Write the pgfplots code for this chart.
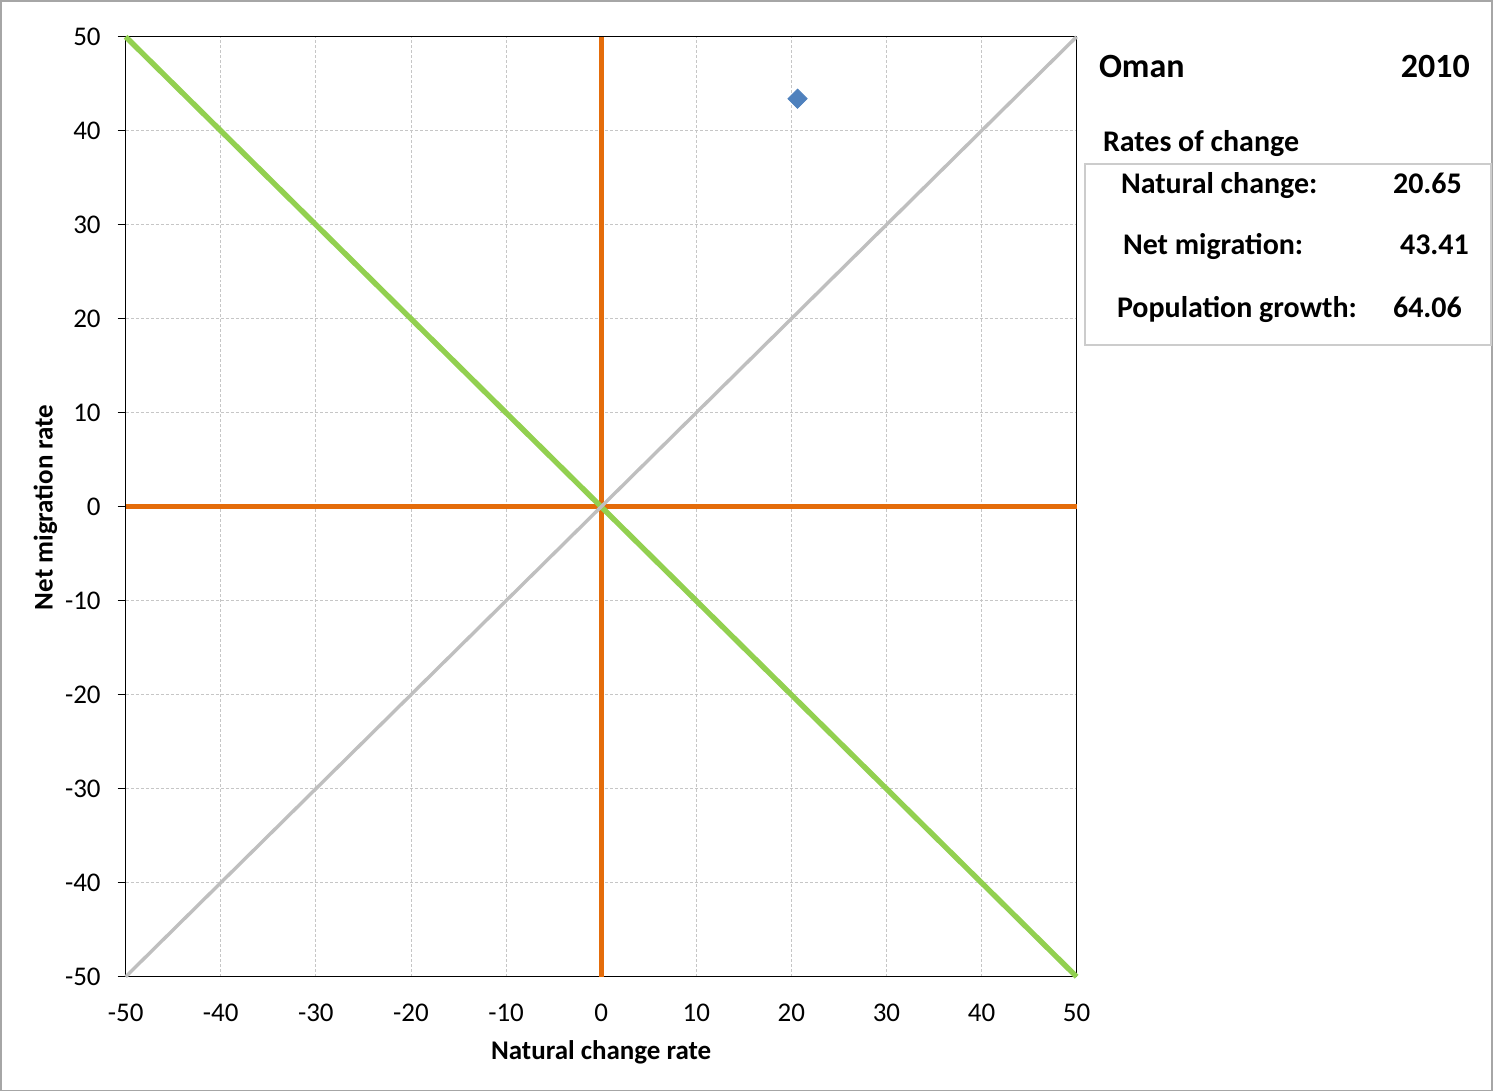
\documentclass[border=0pt]{standalone}
\usepackage{pgfplots}
\pgfplotsset{compat=1.18}
\usepackage{fontspec}
\setmainfont{Carlito}
\definecolor{grn}{HTML}{92D050}
\definecolor{org}{HTML}{E46C0A}
\definecolor{gry}{HTML}{BFBFBF}
\definecolor{blu}{HTML}{4F81BD}
\begin{document}
\begin{tikzpicture}
\draw[gray!70, line width=0.8bp] (0,0) rectangle (746.5bp,545.5bp);
\begin{axis}[
  at={(62.5bp,57bp)}, anchor=south west,
  scale only axis, width=476bp, height=470.5bp,
  xmin=-50, xmax=50, ymin=-50, ymax=50,
  xtick={-50,-40,...,50}, ytick={-50,-40,...,50},
  ytick pos=left,
  grid=major,
  major grid style={gray!45, dash pattern=on 1.5bp off 1bp, line width=0.4bp},
  axis line style={black, line width=0.7bp},
  tick align=outside, major tick length=4bp,
  xtick style={draw=none}, ytick style={black, line width=0.6bp},
  /pgf/number format/assume math mode=true,
  tick label style={font=\fontsize{13.5bp}{16bp}\selectfont},
  yticklabel style={xshift=-5bp},
  xticklabel style={yshift=-6bp},
  clip=false,
]
\addplot[org, line width=2.5bp] coordinates {(-50,0) (50,0)};
\addplot[org, line width=2.5bp] coordinates {(0,-50) (0,50)};
\addplot[grn, line width=2.7bp] coordinates {(-50,50) (50,-50)};
\addplot[gry, line width=1.7bp] coordinates {(-50,-50) (50,50)};
\addplot[only marks, mark=square*, mark size=3.4bp, mark options={rotate=45, draw=blu, fill=blu}] coordinates {(20.65,43.41)};
\end{axis}
\node[font=\bfseries\fontsize{13.5bp}{16bp}\selectfont, anchor=base] at (300.5bp,15.5bp) {Natural change rate};
\node[font=\bfseries\fontsize{13.5bp}{16bp}\selectfont, rotate=90, anchor=base] at (26bp,292bp) {Net migration rate};
\node[font=\bfseries\fontsize{17bp}{20bp}\selectfont, anchor=base west, inner sep=0] at (549.5bp,507bp) {Oman};
\node[font=\bfseries\fontsize{17bp}{20bp}\selectfont, anchor=base east, inner sep=0] at (735.5bp,507bp) {2010};
\node[font=\bfseries\fontsize{15bp}{18bp}\selectfont, anchor=base west, inner sep=0] at (551.5bp,470bp) {Rates of change};
\draw[gray!40, line width=1bp] (542.5bp,373bp) rectangle (746bp,464bp);
\node[font=\bfseries\fontsize{15bp}{18bp}\selectfont, anchor=base west, inner sep=0] at (560.5bp,449bp) {Natural change:};
\node[font=\bfseries\fontsize{15bp}{18bp}\selectfont, anchor=base east, inner sep=0] at (731.5bp,449bp) {20.65};
\node[font=\bfseries\fontsize{15bp}{18bp}\selectfont, anchor=base west, inner sep=0] at (561.5bp,418.5bp) {Net migration:};
\node[font=\bfseries\fontsize{15bp}{18bp}\selectfont, anchor=base east, inner sep=0] at (735bp,418.5bp) {43.41};
\node[font=\bfseries\fontsize{15bp}{18bp}\selectfont, anchor=base west, inner sep=0] at (558.5bp,387bp) {Population growth:};
\node[font=\bfseries\fontsize{15bp}{18bp}\selectfont, anchor=base east, inner sep=0] at (731.5bp,387bp) {64.06};
\end{tikzpicture}
\end{document}
